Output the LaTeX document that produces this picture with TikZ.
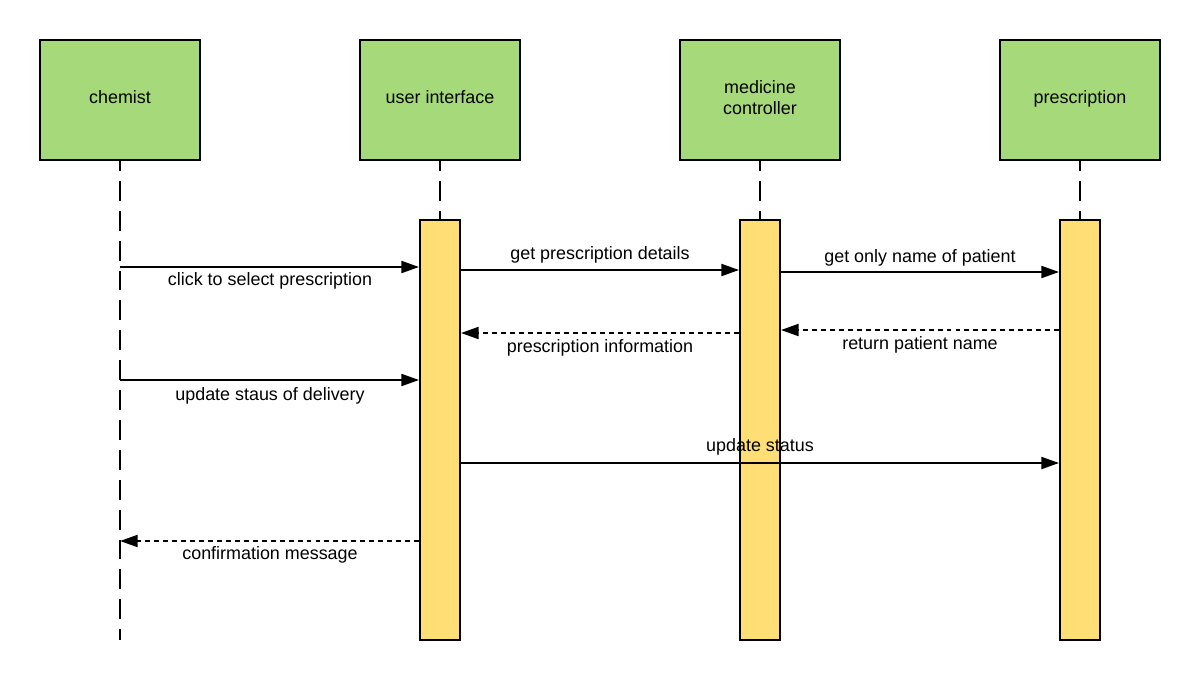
\documentclass[tikz,border=0pt]{standalone}
\usepackage{fontspec}
\setmainfont{Liberation Sans}
\usetikzlibrary{arrows.meta}
\definecolor{actorgreen}{HTML}{A6D97A}
\definecolor{baryellow}{HTML}{FFDE75}
\tikzset{
  px/.style={x=0.02cm,y=-0.02cm},
  actor/.style={draw=black,line width=1.13pt,fill=actorgreen,minimum width=3.2cm,
    minimum height=2.4cm,inner sep=0pt},
  boxtext/.style={align=center,font=\fontsize{10.2}{11.9}\selectfont,inner sep=0pt,yshift=0.055cm},
  actbar/.style={draw=black,line width=1.13pt,fill=baryellow,minimum width=0.8cm,
    minimum height=8.4cm,inner sep=0pt},
  lifeline/.style={line width=1.13pt,dash pattern=on 11.34pt off 5.67pt,dash phase=5.67pt},
  msg/.style={line width=1.13pt,-{Triangle[length=10pt,width=6.8pt]}},
  reply/.style={msg,dash pattern=on 2.8pt off 2.3pt},
  lbl/.style={font=\fontsize{10.2}{12}\selectfont,inner sep=0pt}
}
\begin{document}
\begin{tikzpicture}[px]
\useasboundingbox[fill=white] (0,0) rectangle (1200,680);
% participants
\node[actor,label={[boxtext]center:chemist}] (chem) at (120,100) {};
\node[actor,label={[boxtext]center:user interface}] (ui) at (440,100) {};
\node[actor,label={[boxtext]center:medicine\\controller}] (mc) at (760,100) {};
\node[actor,label={[boxtext,yshift=-0.04cm]center:prescription}] (pr) at (1080,100) {};
% activation bars
\node[actbar] (uibar) at (440,430) {};
\node[actbar] (mcbar) at (760,430) {};
\node[actbar] (prbar) at (1080,430) {};
\coordinate (chemend) at (120,640);
% lifelines
\draw[lifeline] (chem.south) -- (chemend);
\draw[lifeline] (ui.south) -- (uibar.north);
\draw[lifeline] (mc.south) -- (mcbar.north);
\draw[lifeline] (pr.south) -- (prbar.north);
% messages
\draw[msg] (chemend |- 0,267) -- (uibar.west |- 0,267);
\node[lbl] (m1) at (270,281) {click to select prescription};
\draw[msg] (uibar.east |- 0,270) -- (mcbar.west |- 0,270);
\node[lbl] (m2) at (600,255) {get prescription details};
\draw[msg] (mcbar.east |- 0,272) -- (prbar.west |- 0,272);
\node[lbl] (m3) at (920,258) {get only name of patient};
\draw[reply] (prbar.west |- 0,330) -- (mcbar.east |- 0,330);
\node[lbl] (m4) at (920,345) {return patient name};
\draw[reply] (mcbar.west |- 0,333) -- (uibar.east |- 0,333);
\node[lbl] (m5) at (600,348) {prescription information};
\draw[msg] (chemend |- 0,380) -- (uibar.west |- 0,380);
\node[lbl] (m6) at (270,396) {update staus of delivery};
\draw[msg] (uibar.east |- 0,463) -- (prbar.west |- 0,463);
\node[lbl] (m7) at (760,447) {update status};
\draw[reply] (uibar.west |- 0,541) -- (chemend |- 0,541);
\node[lbl] (m8) at (270,555) {confirmation message};
\end{tikzpicture}
\end{document}
